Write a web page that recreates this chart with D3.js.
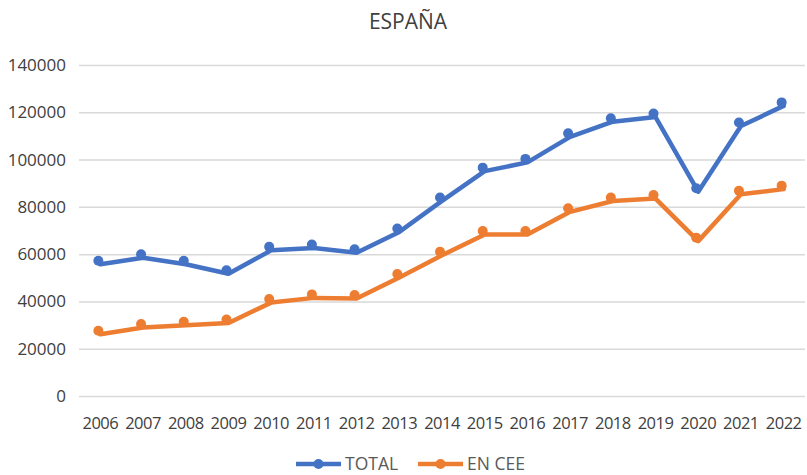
<!DOCTYPE html>
<html><head><meta charset="utf-8">
<script src="https://cdn.jsdelivr.net/npm/d3@7"></script>
<style>body{margin:0;background:#fff}svg{display:block}text{font-family:"Open Sans",sans-serif}</style>
</head><body>
<script>
const years = ["2006","2007","2008","2009","2010","2011","2012","2013","2014","2015","2016","2017","2018","2019","2020","2021","2022"];
const total = [55700,58500,55700,51700,61600,62600,60600,69400,82500,95100,98800,109600,116000,118000,86400,114200,122700];
const enCee = [26100,29000,29900,30900,39500,41500,41200,50100,59500,68300,68300,77900,82500,83500,65500,85300,87500];
const yTicks = [0,20000,40000,60000,80000,100000,120000,140000];
const seriesNames = ["TOTAL","EN CEE"];
const colors = ["#4472C4","#ED7D31"];

const W=807,H=475;
const svg=d3.select("body").append("svg").attr("width",W).attr("height",H);
const x=d3.scaleBand().domain(years).range([79,805]);
const y=d3.scaleLinear().domain([0,140000]).range([396,65]);

svg.append("text").attr("x",408).attr("y",29).attr("text-anchor","middle")
  .attr("font-size",21).attr("fill","#404040").text("ESPAÑA");

const gy=svg.append("g").attr("transform","translate(79,0)")
  .call(d3.axisLeft(y).tickValues(yTicks).tickSize(-726).tickFormat(d3.format("d")));
gy.select(".domain").remove();
gy.selectAll(".tick line").attr("stroke","#d9d9d9").attr("stroke-width",1.5);
gy.selectAll(".tick text").attr("x",-13).attr("font-size",17).attr("fill","#404040");

const gx=svg.append("g").attr("transform","translate(0,396)")
  .call(d3.axisBottom(x).tickSize(0));
gx.select(".domain").remove();
gx.selectAll(".tick text").attr("dy",0).attr("y",33).attr("font-size",16.5).attr("fill","#404040").attr("letter-spacing","-0.5");

const data=[total,enCee];
const line=d3.line().x((d,i)=>x(years[i])+x.bandwidth()/2).y(d=>y(d));
data.forEach((s,k)=>{
  svg.append("path").attr("d",line(s)).attr("fill","none").attr("stroke",colors[k])
    .attr("stroke-width",4.5).attr("stroke-linejoin","round").attr("stroke-linecap","round");
  svg.append("g").selectAll("circle").data(s).join("circle")
    .attr("cx",(d,i)=>x(years[i])+x.bandwidth()/2-2)
    .attr("cy",d=>y(d)-3.5).attr("r",5).attr("fill",colors[k]);
});

const legX=[296,418];
seriesNames.forEach((n,k)=>{
  const g=svg.append("g").attr("transform",`translate(${legX[k]},464)`);
  g.append("line").attr("x1",0).attr("x2",45).attr("stroke",colors[k]).attr("stroke-width",4.5);
  g.append("circle").attr("cx",22.5).attr("r",5).attr("fill",colors[k]);
  g.append("text").attr("x",49).attr("y",6).attr("font-size",17.5).attr("fill","#595959").text(n);
});
</script>
</body></html>
